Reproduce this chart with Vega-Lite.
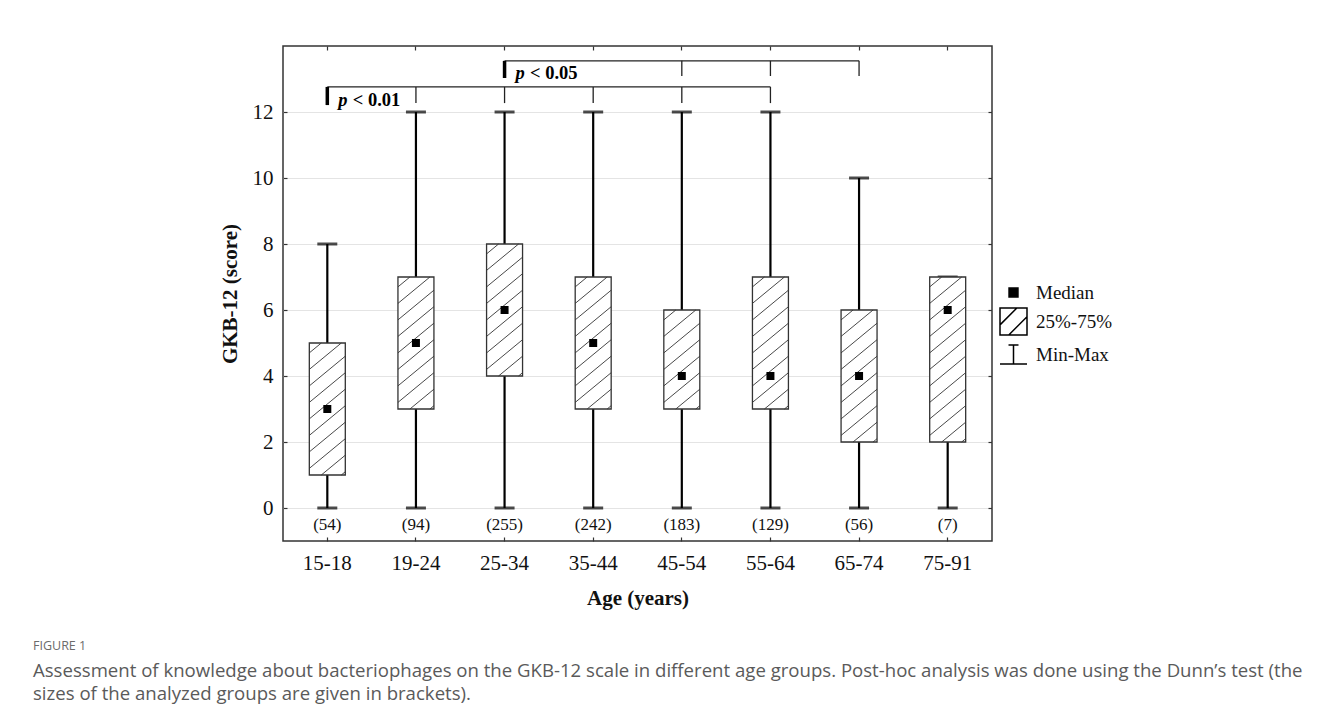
{
  "$schema": "https://vega.github.io/schema/vega-lite/v6.json",
  "width": 709,
  "height": 495,
  "autosize": "none",
  "padding": {"left": 283, "top": 46, "right": 331, "bottom": 181},
  "background": "white",
  "config": {
    "view": {"stroke": "#333333", "strokeWidth": 1.5},
    "axis": {"labelFont": "Liberation Serif", "titleFont": "Liberation Serif", "labelColor": "#111111", "titleColor": "#111111", "domain": false, "tickColor": "#333333", "tickWidth": 1.2, "grid": false}
  },
  "title": {
    "text": "FIGURE 1",
    "subtitle": ["Assessment of knowledge about bacteriophages on the GKB-12 scale in different age groups. Post-hoc analysis was done using the Dunn’s test (the", "sizes of the analyzed groups are given in brackets)."],
    "orient": "bottom", "anchor": "start", "frame": "group", "dx": -250, "offset": 32,
    "font": "Open Sans", "fontSize": 12.5, "fontWeight": "normal", "color": "#6b6b6b",
    "subtitleFont": "Open Sans", "subtitleFontSize": 18.6, "subtitleColor": "#5a5a5a", "subtitlePadding": 9, "subtitleLineHeight": 23
  },
  "datasets": {
    "boxes": [
      {"g": "15-18", "min": 0, "q1": 1, "med": 3, "q3": 5, "max": 8, "nl": "(54)"},
      {"g": "19-24", "min": 0, "q1": 3, "med": 5, "q3": 7, "max": 12, "nl": "(94)"},
      {"g": "25-34", "min": 0, "q1": 4, "med": 6, "q3": 8, "max": 12, "nl": "(255)"},
      {"g": "35-44", "min": 0, "q1": 3, "med": 5, "q3": 7, "max": 12, "nl": "(242)"},
      {"g": "45-54", "min": 0, "q1": 3, "med": 4, "q3": 6, "max": 12, "nl": "(183)"},
      {"g": "55-64", "min": 0, "q1": 3, "med": 4, "q3": 7, "max": 12, "nl": "(129)"},
      {"g": "65-74", "min": 0, "q1": 2, "med": 4, "q3": 6, "max": 10, "nl": "(56)"},
      {"g": "75-91", "min": 0, "q1": 2, "med": 6, "q3": 7, "max": 7, "nl": "(7)"}
    ],
    "hatch": [
      {"g":"15-18","s":1,"t":0.889,"v":1},{"g":"15-18","s":1,"t":1,"v":1.1},
      {"g":"15-18","s":2,"t":0.333,"v":1},{"g":"15-18","s":2,"t":1,"v":1.6},
      {"g":"15-18","s":3,"t":0,"v":1.2},{"g":"15-18","s":3,"t":1,"v":2.1},
      {"g":"15-18","s":4,"t":0,"v":1.7},{"g":"15-18","s":4,"t":1,"v":2.6},
      {"g":"15-18","s":5,"t":0,"v":2.2},{"g":"15-18","s":5,"t":1,"v":3.1},
      {"g":"15-18","s":6,"t":0,"v":2.7},{"g":"15-18","s":6,"t":1,"v":3.6},
      {"g":"15-18","s":7,"t":0,"v":3.2},{"g":"15-18","s":7,"t":1,"v":4.1},
      {"g":"15-18","s":8,"t":0,"v":3.7},{"g":"15-18","s":8,"t":1,"v":4.6},
      {"g":"15-18","s":9,"t":0,"v":4.2},{"g":"15-18","s":9,"t":0.889,"v":5},
      {"g":"15-18","s":10,"t":0,"v":4.7},{"g":"15-18","s":10,"t":0.333,"v":5},

      {"g":"19-24","s":1,"t":0.889,"v":3},{"g":"19-24","s":1,"t":1,"v":3.1},
      {"g":"19-24","s":2,"t":0.333,"v":3},{"g":"19-24","s":2,"t":1,"v":3.6},
      {"g":"19-24","s":3,"t":0,"v":3.2},{"g":"19-24","s":3,"t":1,"v":4.1},
      {"g":"19-24","s":4,"t":0,"v":3.7},{"g":"19-24","s":4,"t":1,"v":4.6},
      {"g":"19-24","s":5,"t":0,"v":4.2},{"g":"19-24","s":5,"t":1,"v":5.1},
      {"g":"19-24","s":6,"t":0,"v":4.7},{"g":"19-24","s":6,"t":1,"v":5.6},
      {"g":"19-24","s":7,"t":0,"v":5.2},{"g":"19-24","s":7,"t":1,"v":6.1},
      {"g":"19-24","s":8,"t":0,"v":5.7},{"g":"19-24","s":8,"t":1,"v":6.6},
      {"g":"19-24","s":9,"t":0,"v":6.2},{"g":"19-24","s":9,"t":0.889,"v":7},
      {"g":"19-24","s":10,"t":0,"v":6.7},{"g":"19-24","s":10,"t":0.333,"v":7},

      {"g":"25-34","s":1,"t":0.889,"v":4},{"g":"25-34","s":1,"t":1,"v":4.1},
      {"g":"25-34","s":2,"t":0.333,"v":4},{"g":"25-34","s":2,"t":1,"v":4.6},
      {"g":"25-34","s":3,"t":0,"v":4.2},{"g":"25-34","s":3,"t":1,"v":5.1},
      {"g":"25-34","s":4,"t":0,"v":4.7},{"g":"25-34","s":4,"t":1,"v":5.6},
      {"g":"25-34","s":5,"t":0,"v":5.2},{"g":"25-34","s":5,"t":1,"v":6.1},
      {"g":"25-34","s":6,"t":0,"v":5.7},{"g":"25-34","s":6,"t":1,"v":6.6},
      {"g":"25-34","s":7,"t":0,"v":6.2},{"g":"25-34","s":7,"t":1,"v":7.1},
      {"g":"25-34","s":8,"t":0,"v":6.7},{"g":"25-34","s":8,"t":1,"v":7.6},
      {"g":"25-34","s":9,"t":0,"v":7.2},{"g":"25-34","s":9,"t":0.889,"v":8},
      {"g":"25-34","s":10,"t":0,"v":7.7},{"g":"25-34","s":10,"t":0.333,"v":8},

      {"g":"35-44","s":1,"t":0.889,"v":3},{"g":"35-44","s":1,"t":1,"v":3.1},
      {"g":"35-44","s":2,"t":0.333,"v":3},{"g":"35-44","s":2,"t":1,"v":3.6},
      {"g":"35-44","s":3,"t":0,"v":3.2},{"g":"35-44","s":3,"t":1,"v":4.1},
      {"g":"35-44","s":4,"t":0,"v":3.7},{"g":"35-44","s":4,"t":1,"v":4.6},
      {"g":"35-44","s":5,"t":0,"v":4.2},{"g":"35-44","s":5,"t":1,"v":5.1},
      {"g":"35-44","s":6,"t":0,"v":4.7},{"g":"35-44","s":6,"t":1,"v":5.6},
      {"g":"35-44","s":7,"t":0,"v":5.2},{"g":"35-44","s":7,"t":1,"v":6.1},
      {"g":"35-44","s":8,"t":0,"v":5.7},{"g":"35-44","s":8,"t":1,"v":6.6},
      {"g":"35-44","s":9,"t":0,"v":6.2},{"g":"35-44","s":9,"t":0.889,"v":7},
      {"g":"35-44","s":10,"t":0,"v":6.7},{"g":"35-44","s":10,"t":0.333,"v":7},

      {"g":"45-54","s":1,"t":0.889,"v":3},{"g":"45-54","s":1,"t":1,"v":3.1},
      {"g":"45-54","s":2,"t":0.333,"v":3},{"g":"45-54","s":2,"t":1,"v":3.6},
      {"g":"45-54","s":3,"t":0,"v":3.2},{"g":"45-54","s":3,"t":1,"v":4.1},
      {"g":"45-54","s":4,"t":0,"v":3.7},{"g":"45-54","s":4,"t":1,"v":4.6},
      {"g":"45-54","s":5,"t":0,"v":4.2},{"g":"45-54","s":5,"t":1,"v":5.1},
      {"g":"45-54","s":6,"t":0,"v":4.7},{"g":"45-54","s":6,"t":1,"v":5.6},
      {"g":"45-54","s":7,"t":0,"v":5.2},{"g":"45-54","s":7,"t":0.889,"v":6},
      {"g":"45-54","s":8,"t":0,"v":5.7},{"g":"45-54","s":8,"t":0.333,"v":6},

      {"g":"55-64","s":1,"t":0.889,"v":3},{"g":"55-64","s":1,"t":1,"v":3.1},
      {"g":"55-64","s":2,"t":0.333,"v":3},{"g":"55-64","s":2,"t":1,"v":3.6},
      {"g":"55-64","s":3,"t":0,"v":3.2},{"g":"55-64","s":3,"t":1,"v":4.1},
      {"g":"55-64","s":4,"t":0,"v":3.7},{"g":"55-64","s":4,"t":1,"v":4.6},
      {"g":"55-64","s":5,"t":0,"v":4.2},{"g":"55-64","s":5,"t":1,"v":5.1},
      {"g":"55-64","s":6,"t":0,"v":4.7},{"g":"55-64","s":6,"t":1,"v":5.6},
      {"g":"55-64","s":7,"t":0,"v":5.2},{"g":"55-64","s":7,"t":1,"v":6.1},
      {"g":"55-64","s":8,"t":0,"v":5.7},{"g":"55-64","s":8,"t":1,"v":6.6},
      {"g":"55-64","s":9,"t":0,"v":6.2},{"g":"55-64","s":9,"t":0.889,"v":7},
      {"g":"55-64","s":10,"t":0,"v":6.7},{"g":"55-64","s":10,"t":0.333,"v":7},

      {"g":"65-74","s":1,"t":0.889,"v":2},{"g":"65-74","s":1,"t":1,"v":2.1},
      {"g":"65-74","s":2,"t":0.333,"v":2},{"g":"65-74","s":2,"t":1,"v":2.6},
      {"g":"65-74","s":3,"t":0,"v":2.2},{"g":"65-74","s":3,"t":1,"v":3.1},
      {"g":"65-74","s":4,"t":0,"v":2.7},{"g":"65-74","s":4,"t":1,"v":3.6},
      {"g":"65-74","s":5,"t":0,"v":3.2},{"g":"65-74","s":5,"t":1,"v":4.1},
      {"g":"65-74","s":6,"t":0,"v":3.7},{"g":"65-74","s":6,"t":1,"v":4.6},
      {"g":"65-74","s":7,"t":0,"v":4.2},{"g":"65-74","s":7,"t":1,"v":5.1},
      {"g":"65-74","s":8,"t":0,"v":4.7},{"g":"65-74","s":8,"t":1,"v":5.6},
      {"g":"65-74","s":9,"t":0,"v":5.2},{"g":"65-74","s":9,"t":0.889,"v":6},
      {"g":"65-74","s":10,"t":0,"v":5.7},{"g":"65-74","s":10,"t":0.333,"v":6},

      {"g":"75-91","s":1,"t":0.889,"v":2},{"g":"75-91","s":1,"t":1,"v":2.1},
      {"g":"75-91","s":2,"t":0.333,"v":2},{"g":"75-91","s":2,"t":1,"v":2.6},
      {"g":"75-91","s":3,"t":0,"v":2.2},{"g":"75-91","s":3,"t":1,"v":3.1},
      {"g":"75-91","s":4,"t":0,"v":2.7},{"g":"75-91","s":4,"t":1,"v":3.6},
      {"g":"75-91","s":5,"t":0,"v":3.2},{"g":"75-91","s":5,"t":1,"v":4.1},
      {"g":"75-91","s":6,"t":0,"v":3.7},{"g":"75-91","s":6,"t":1,"v":4.6},
      {"g":"75-91","s":7,"t":0,"v":4.2},{"g":"75-91","s":7,"t":1,"v":5.1},
      {"g":"75-91","s":8,"t":0,"v":4.7},{"g":"75-91","s":8,"t":1,"v":5.6},
      {"g":"75-91","s":9,"t":0,"v":5.2},{"g":"75-91","s":9,"t":1,"v":6.1},
      {"g":"75-91","s":10,"t":0,"v":5.7},{"g":"75-91","s":10,"t":1,"v":6.6},
      {"g":"75-91","s":11,"t":0,"v":6.2},{"g":"75-91","s":11,"t":0.889,"v":7},
      {"g":"75-91","s":12,"t":0,"v":6.7},{"g":"75-91","s":12,"t":0.333,"v":7}
    ],
    "bline": [
      {"from": "25-34", "to": "65-74", "v": 13.55},
      {"from": "15-18", "to": "55-64", "v": 12.76}
    ],
    "bdrop": [
      {"g": "45-54", "top": 13.55, "bot": 13.09},
      {"g": "55-64", "top": 13.55, "bot": 13.09},
      {"g": "65-74", "top": 13.55, "bot": 13.09},
      {"g": "19-24", "top": 12.76, "bot": 12.27},
      {"g": "25-34", "top": 12.76, "bot": 12.27},
      {"g": "35-44", "top": 12.76, "bot": 12.27},
      {"g": "45-54", "top": 12.76, "bot": 12.27},
      {"g": "55-64", "top": 12.76, "bot": 12.27}
    ],
    "bstart": [
      {"g": "25-34", "top": 13.55, "bot": 13.03},
      {"g": "15-18", "top": 12.76, "bot": 12.21}
    ],
    "ptext": [
      {"g": "25-34", "v": 13.18, "p": "p", "rest": "< 0.05"},
      {"g": "15-18", "v": 12.36, "p": "p", "rest": "< 0.01"}
    ],
    "legend": [{"k": "Median"}, {"k": "25%-75%"}, {"k": "Min-Max"}]
  },
  "layer": [
    {
      "data": {"name": "boxes"},
      "mark": {"type": "rule", "color": "#000000", "strokeWidth": 2.2},
      "encoding": {
        "x": {"field": "g", "type": "nominal",
              "scale": {"type": "band", "paddingInner": 0.594, "paddingOuter": 0.297},
              "axis": {"orient": "bottom", "title": "Age (years)", "labelFontSize": 21, "labelAngle": 0, "labelPadding": 15, "tickSize": -4, "titleFontSize": 21, "titleFontWeight": "bold", "titlePadding": 14}},
        "y": {"field": "min", "type": "quantitative",
              "scale": {"domain": [-1, 14], "nice": false, "zero": false},
              "axis": {"orient": "left", "values": [0, 2, 4, 6, 8, 10, 12], "title": "GKB-12 (score)", "labelFontSize": 21, "labelPadding": 14, "tickSize": -4, "grid": true, "gridColor": "#e4e4e4", "gridWidth": 1, "titleFontSize": 21, "titleFontWeight": "bold", "titlePadding": 12}},
        "y2": {"field": "q1"}
      }
    },
    {
      "data": {"name": "boxes"},
      "mark": {"type": "rule", "color": "#000000", "strokeWidth": 2.2},
      "encoding": {
        "x": {"field": "g", "type": "nominal", "axis": null},
        "y": {"field": "q3", "type": "quantitative", "axis": null},
        "y2": {"field": "max"}
      }
    },
    {
      "data": {"name": "boxes"},
      "mark": {"type": "tick", "color": "#000000", "size": 20, "thickness": 3},
      "encoding": {
        "x": {"field": "g", "type": "nominal", "axis": null},
        "y": {"field": "max", "type": "quantitative", "axis": null}
      }
    },
    {
      "data": {"name": "boxes"},
      "mark": {"type": "tick", "color": "#000000", "size": 20, "thickness": 3},
      "encoding": {
        "x": {"field": "g", "type": "nominal", "axis": null},
        "y": {"field": "min", "type": "quantitative", "axis": null}
      }
    },
    {
      "data": {"name": "boxes"},
      "mark": {"type": "bar", "fill": "#ffffff", "fillOpacity": 1, "opacity": 1, "stroke": "#333333", "strokeWidth": 1.3, "width": {"band": 1}},
      "encoding": {
        "x": {"field": "g", "type": "nominal", "axis": null},
        "y": {"field": "q1", "type": "quantitative", "axis": null},
        "y2": {"field": "q3"}
      }
    },
    {
      "data": {"name": "hatch"},
      "mark": {"type": "line", "color": "#333333", "strokeWidth": 0.9},
      "encoding": {
        "x": {"field": "g", "type": "nominal", "axis": null},
        "xOffset": {"field": "t", "type": "quantitative", "scale": {"domain": [0, 1], "nice": false, "zero": false}},
        "y": {"field": "v", "type": "quantitative", "axis": null},
        "detail": [{"field": "g"}, {"field": "s"}]
      }
    },
    {
      "data": {"name": "boxes"},
      "mark": {"type": "point", "shape": "square", "filled": true, "color": "#000000", "size": 64, "opacity": 1},
      "encoding": {
        "x": {"field": "g", "type": "nominal",
              "axis": {"orient": "top", "labels": false, "title": null, "tickSize": -4}},
        "y": {"field": "med", "type": "quantitative",
              "axis": {"orient": "right", "labels": false, "title": null, "tickSize": -4, "values": [0, 2, 4, 6, 8, 10, 12]}}
      }
    },
    {
      "data": {"name": "boxes"},
      "mark": {"type": "text", "font": "Liberation Serif", "fontSize": 17, "color": "#111111", "baseline": "middle"},
      "encoding": {
        "x": {"field": "g", "type": "nominal", "axis": null},
        "y": {"datum": -0.5, "type": "quantitative", "axis": null},
        "text": {"field": "nl"}
      }
    },
    {
      "data": {"name": "bline"},
      "mark": {"type": "rule", "color": "#222222", "strokeWidth": 1.3},
      "encoding": {
        "x": {"field": "from", "type": "nominal", "axis": null},
        "x2": {"field": "to"},
        "y": {"field": "v", "type": "quantitative", "axis": null}
      }
    },
    {
      "data": {"name": "bdrop"},
      "mark": {"type": "rule", "color": "#222222", "strokeWidth": 1.3},
      "encoding": {
        "x": {"field": "g", "type": "nominal", "axis": null},
        "y": {"field": "top", "type": "quantitative", "axis": null},
        "y2": {"field": "bot"}
      }
    },
    {
      "data": {"name": "bstart"},
      "mark": {"type": "rule", "color": "#000000", "strokeWidth": 3.5},
      "encoding": {
        "x": {"field": "g", "type": "nominal", "axis": null},
        "y": {"field": "top", "type": "quantitative", "axis": null},
        "y2": {"field": "bot"}
      }
    },
    {
      "data": {"name": "ptext"},
      "mark": {"type": "text", "font": "Liberation Serif", "fontSize": 18.5, "fontWeight": "bold", "fontStyle": "italic", "align": "left", "baseline": "middle", "dx": 11, "color": "#000000"},
      "encoding": {
        "x": {"field": "g", "type": "nominal", "axis": null},
        "y": {"field": "v", "type": "quantitative", "axis": null},
        "text": {"field": "p"}
      }
    },
    {
      "data": {"name": "ptext"},
      "mark": {"type": "text", "font": "Liberation Serif", "fontSize": 18.5, "fontWeight": "bold", "align": "left", "baseline": "middle", "dx": 25.5, "color": "#000000"},
      "encoding": {
        "x": {"field": "g", "type": "nominal", "axis": null},
        "y": {"field": "v", "type": "quantitative", "axis": null},
        "text": {"field": "rest"}
      }
    },
    {
      "data": {"name": "legend"},
      "transform": [{"filter": "false"}],
      "mark": {"type": "point", "stroke": "#000000", "filled": true, "opacity": 1},
      "encoding": {
        "shape": {"field": "k", "type": "nominal",
                  "scale": {"domain": ["Median", "25%-75%", "Min-Max"],
                            "range": ["M-0.33,-0.33H0.33V0.33H-0.33Z", "M-1,-1H1V1H-1Z M-1,0.25L0.25,-1 M-0.35,1L1,-0.35", "M-0.37,-0.7H0.37M0,-0.7V0.7M-1,0.7H1"]},
                  "legend": {"title": null, "orient": "none", "legendX": 716, "legendY": 232, "symbolSize": 729, "labelFont": "Liberation Serif", "labelFontSize": 19, "labelColor": "#111111", "labelOffset": 8, "rowPadding": 2, "padding": 0,
                             "encode": {"symbols": {"update": {"stroke": {"value": "#000000"}, "strokeWidth": {"value": 1.6}, "opacity": {"value": 1}, "fillOpacity": {"value": 1}, "strokeOpacity": {"value": 1}}}}}},
        "fill": {"field": "k", "type": "nominal",
                 "scale": {"domain": ["Median", "25%-75%", "Min-Max"], "range": ["#000000", "#ffffff", "#ffffff"]},
                 "legend": {"title": null, "orient": "none", "legendX": 716, "legendY": 232, "symbolSize": 729, "labelFont": "Liberation Serif", "labelFontSize": 19, "labelColor": "#111111", "labelOffset": 8, "rowPadding": 2, "padding": 0,
                            "encode": {"symbols": {"update": {"stroke": {"value": "#000000"}, "strokeWidth": {"value": 1.6}, "opacity": {"value": 1}, "fillOpacity": {"value": 1}, "strokeOpacity": {"value": 1}}}}}}
      }
    }
  ],
  "resolve": {"axis": {"x": "independent", "y": "independent"}, "scale": {"xOffset": "independent"}}
}
